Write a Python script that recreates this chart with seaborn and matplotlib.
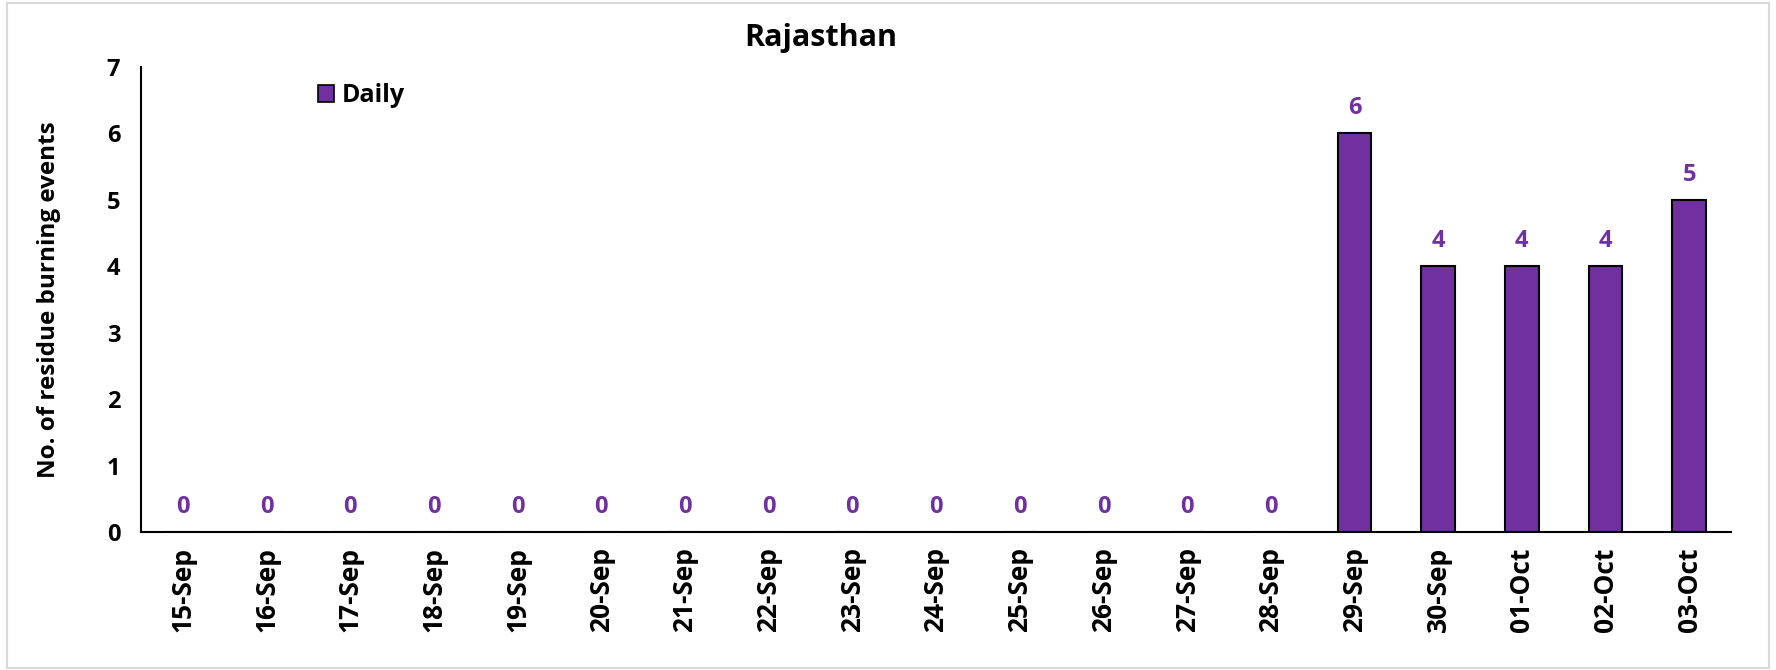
import numpy as np
import pandas as pd
import matplotlib.pyplot as plt
import seaborn as sns
from matplotlib.patches import Rectangle, Patch

# daily residue burning events, Rajasthan
dates = ['15-Sep', '16-Sep', '17-Sep', '18-Sep', '19-Sep', '20-Sep', '21-Sep',
         '22-Sep', '23-Sep', '24-Sep', '25-Sep', '26-Sep', '27-Sep', '28-Sep',
         '29-Sep', '30-Sep', '01-Oct', '02-Oct', '03-Oct']
counts = [0, 0, 0, 0, 0, 0, 0, 0, 0, 0, 0, 0, 0, 0, 6, 4, 4, 4, 5]

df = pd.DataFrame({'date': dates, 'count': counts})
purple = '#7030A0'

sns.set_style('white')
plt.rcParams['font.family'] = ['Open Sans', 'DejaVu Sans']
plt.rcParams['font.weight'] = 'bold'
plt.rcParams['text.color'] = 'black'
plt.rcParams['axes.labelcolor'] = 'black'
plt.rcParams['xtick.color'] = 'black'
plt.rcParams['ytick.color'] = 'black'

fig = plt.figure(figsize=(17.76, 6.70), dpi=100)
ax = fig.add_axes([0.0794, 0.206, 0.8953, 0.694])

sns.barplot(data=df, x='date', y='count', color=purple, edgecolor='black',
            linewidth=1.5, width=0.4, saturation=1, ax=ax)

# data labels
for i, v in enumerate(df['count']):
    ax.text(i, v + 0.38, str(v), ha='center', va='center', color=purple,
            fontsize=17, fontweight='bold')

ax.set_ylim(0, 7)
ax.set_xlim(-0.5, len(dates) - 0.5)
ax.set_yticks(range(0, 8))
ax.set_xticks(np.arange(-0.5, len(dates), 1), minor=True)
ax.tick_params(axis='x', which='major', length=0, pad=11, labelrotation=90, labelsize=19)
ax.tick_params(axis='x', which='minor', length=8, width=1.5, direction='out', color='black')
ax.tick_params(axis='y', length=7, width=1.5, direction='out', color='black', labelsize=17, pad=8)
for lbl in ax.get_xticklabels() + ax.get_yticklabels():
    lbl.set_fontweight('bold')

sns.despine(ax=ax, top=True, right=True)
ax.spines['left'].set_linewidth(1.5)
ax.spines['bottom'].set_linewidth(1.5)
ax.spines['left'].set_color('black')
ax.spines['bottom'].set_color('black')

ax.set_xlabel('')
ax.set_ylabel('No. of residue burning events', fontsize=17.5, fontweight='bold', labelpad=33)

fig.text(821 / 1776, 1 - 38 / 670, 'Rajasthan', ha='center', va='center',
         fontsize=22, fontweight='bold')

handles = [Patch(facecolor=purple, edgecolor='black', linewidth=1.2, label='Daily')]
fig.legend(handles=handles, loc='center left', bbox_to_anchor=(295 / 1776, 1 - 96 / 670),
           frameon=False, handlelength=0.65, handleheight=0.65,
           handletextpad=0.3, prop={'weight': 'bold', 'size': 18})

# light grey chart border
fig.patches.append(Rectangle((7 / 1776, 2 / 670), 1762 / 1776, 665 / 670,
                             transform=fig.transFigure, fill=False,
                             edgecolor='#d9d9d9', linewidth=1.5))

fig.savefig('out.png', dpi=100)
